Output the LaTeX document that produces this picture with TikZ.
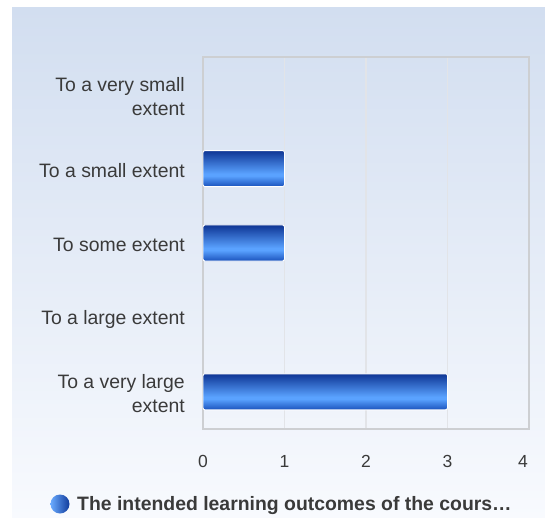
\documentclass[tikz,border=0pt]{standalone}
\usepackage{fontspec}
\setmainfont{Liberation Sans}
\usetikzlibrary{calc,math}

\definecolor{bgtop}{HTML}{D2DEF0}
\definecolor{bgbot}{HTML}{F8FAFE}
\definecolor{txt}{HTML}{3A3A3A}
\definecolor{gridc}{HTML}{E2E4E8}
\definecolor{framec}{HTML}{CDCFD2}
\definecolor{bardark}{HTML}{0E3594}
\definecolor{barlight}{HTML}{5AA2FF}
\definecolor{barlow}{HTML}{1A52BC}
\pgfdeclareverticalshading{barshade}{100bp}{color(0bp)=(barlow); color(25bp)=(barlow); color(40bp)=(barlight); color(43bp)=(barlight); color(75bp)=(bardark); color(100bp)=(bardark)}

\tikzset{
    grid/.style={gridc, line width=1.2pt},
    frame/.style={framec, line width=1.8pt},
    bar/.style={shade, shading=barshade, draw=white, line width=0.9pt, rounded corners=2pt},
    cat/.style={anchor=east, align=right, text=txt, inner sep=0pt, font=\fontsize{19.4}{24}\selectfont},
    tick/.style={text=txt, inner sep=0pt, font=\fontsize{17.5}{20}\selectfont},
    legend/.style={anchor=west, text=txt, inner sep=0pt, font=\bfseries\fontsize{19.4}{22}\selectfont}
}

\begin{document}
\begin{tikzpicture}[x=1pt,y=-1pt]
    \tikzmath{ \u=81.5; \h=74.4; }
    \useasboundingbox (0,0) rectangle (545,518);
    \shade[top color=bgtop, bottom color=bgbot] (12,8) rectangle (545,518);
    \coordinate (O) at (203,429);
    \coordinate (T) at (529,57);
    % grid and frame
    \foreach \i in {1,2,3}
        \draw[grid] ($(O)+(\i*\u,0)$) -- ($(O)+(\i*\u,-372)$);
    \draw[frame] (O) rectangle (T);
    % axis numbers
    \foreach \i in {0,...,3}
        \node[tick] (x\i) at ($(O)+(\i*\u,32)$) {\i};
    \node[tick] (x4) at ($(O)+(320,32)$) {4};
    % categories
    \foreach \t [count=\k] in {{To a very small\\extent}, {To a small extent}, {To some extent}, {To a large extent}, {To a very large\\extent}}
        \node[cat] (c\k) at (185, {59+(\k-0.5)*\h}) {\t};
    % bars
    \foreach \k/\v in {2/1, 3/1, 5/3}
        \path[bar] (203, {57+(\k-0.5)*\h-18}) rectangle ({203+\v*\u}, {57+(\k-0.5)*\h+18});
    % legend
    \shade[left color=barlight!90!white, right color=bardark!80!barlow] (60,504) circle (9.5);
    \node[legend] (lg) at (77,506) {The intended learning outcomes of the cours…};
\end{tikzpicture}
\end{document}
